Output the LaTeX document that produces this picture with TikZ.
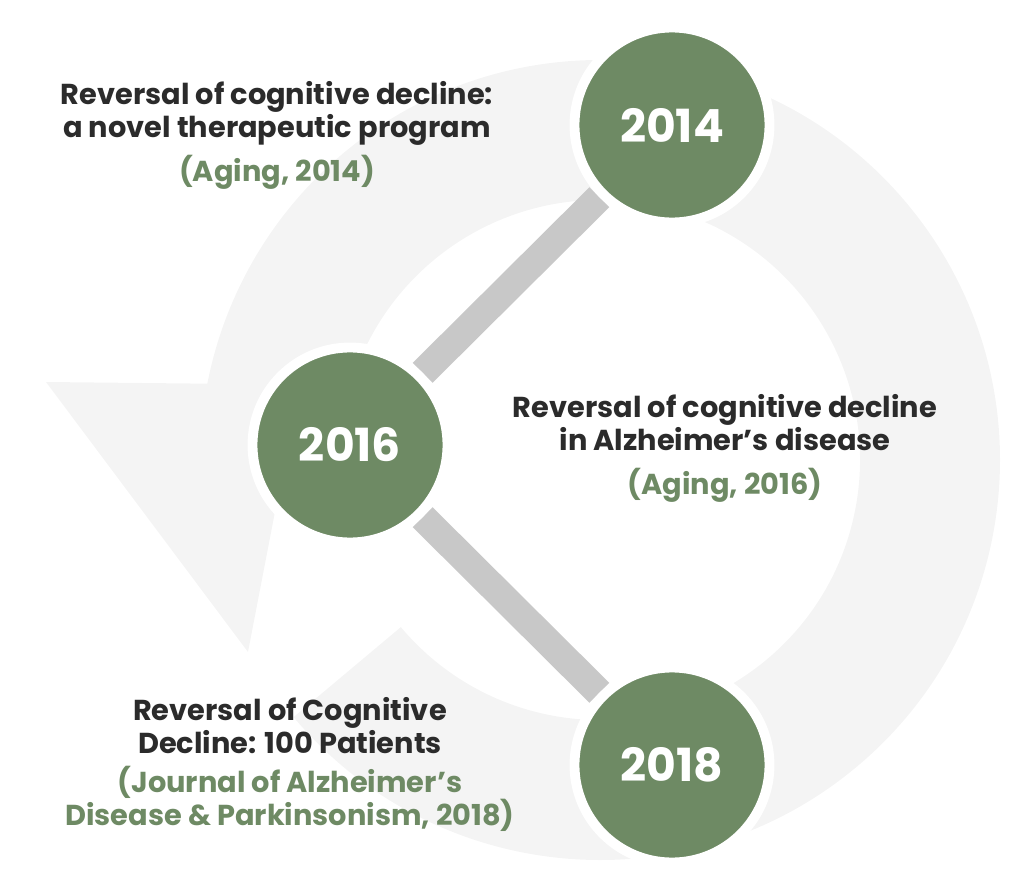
\documentclass[tikz,border=0pt]{standalone}
\usepackage{fontspec}
\setmainfont{Poppins}
\usetikzlibrary{calc,backgrounds}
\definecolor{leaf}{HTML}{6E8A64}
\definecolor{ink}{HTML}{2B2B2B}
\definecolor{ringgrey}{HTML}{F4F4F4}
\definecolor{linkgrey}{HTML}{C8C8C8}
\tikzset{
  year/.style={circle, fill=leaf, draw=white, line width=2.8pt, minimum size=1.95cm,
    text=white, font=\fontsize{13}{13}\selectfont\bfseries},
  title/.style={align=center, text=ink, font=\fontsize{8.2}{9.4}\selectfont\bfseries},
  source/.style={align=center, text=leaf, font=\fontsize{8.2}{9.4}\selectfont\bfseries},
  link/.style={linkgrey, line width=8pt}
}
\begin{document}
\begin{tikzpicture}
        \useasboundingbox (0,0) rectangle (10.24,-8.92);

        \node [year] (y14) at (6.72,-1.25) {2014};
        \node [year] (y16) at (3.50,-4.45) {2016};
        \node [year] (y18) at (6.72,-7.65) {2018};

        \begin{scope}[on background layer]
        % background ring with arrow head
        \fill [ringgrey] (6,-4.6) ++(220:4) arc (220:529:4) -- (0.46,-3.82) -- (2.48,-6.52) -- (3.00,-3.82)
              -- ($(6,-4.6)+(529:2.6)$) arc (529:220:2.6) -- cycle;
        \draw [link] (y14) -- (y16);
        \draw [link] (y16) -- (y18);
        \end{scope}

        \node [title] (t14) at (2.77,-1.13) {Reversal of cognitive decline:\\a novel therapeutic program};
        \node [source] (s14) at (2.77,-1.72) {(Aging, 2014)};
        \node [title] (t16) at (7.25,-4.23) {Reversal of cognitive decline\\in Alzheimer’s disease};
        \node [source] (s16) at (7.25,-4.85) {(Aging, 2016)};
        \node [title] (t18) at (2.90,-7.26) {Reversal of Cognitive\\Decline: 100 Patients};
        \node [source] (s18) at (2.90,-7.99) {(Journal of Alzheimer’s\\Disease \& Parkinsonism, 2018)};
\end{tikzpicture}
\end{document}
